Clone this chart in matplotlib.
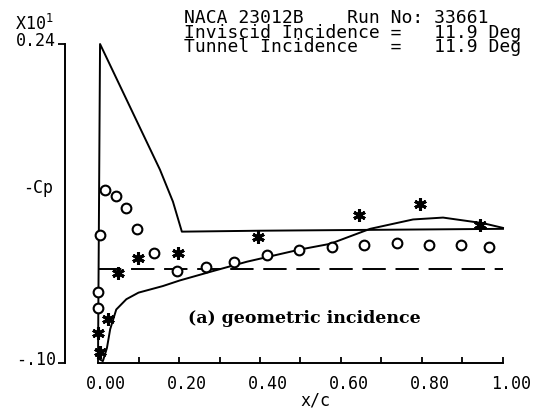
import matplotlib
matplotlib.use('Agg')
import matplotlib.pyplot as plt
import matplotlib.transforms as mtransforms

# inviscid -Cp (scaled by 1/10), upper surface then lower surface
x_upper = [0.0, 0.005, 0.111, 0.153, 0.185, 0.207, 0.40, 0.70, 1.0]
cp_upper = [-0.095, 0.24, 0.144, 0.106, 0.072, 0.040, 0.041, 0.042, 0.043]
x_lower = [0.0, 0.012, 0.022, 0.030, 0.045, 0.070, 0.100, 0.160, 0.202, 0.284,
           0.368, 0.499, 0.573, 0.672, 0.778, 0.852, 0.951, 1.0]
cp_lower = [-0.095, -0.098, -0.084, -0.064, -0.043, -0.032, -0.025, -0.018, -0.012, -0.002,
            0.008, 0.021, 0.027, 0.043, 0.053, 0.055, 0.049, 0.044]

# reference level
x_ref = [0.0, 1.0]
cp_ref = [0.0, 0.0]

# measured points, two sets
x_circ = [0.005, 0.017, 0.044, 0.069, 0.096, 0.138, 0.195, 0.267, 0.336, 0.417,
          0.496, 0.578, 0.657, 0.738, 0.817, 0.896, 0.965, 0.0, 0.0]
cp_circ = [0.036, 0.084, 0.078, 0.065, 0.043, 0.017, -0.002, 0.002, 0.008, 0.015,
           0.020, 0.024, 0.026, 0.028, 0.026, 0.026, 0.024, -0.024, -0.041]
x_star = [0.049, 0.099, 0.198, 0.395, 0.644, 0.795, 0.943, 0.025, 0.0, 0.006]
cp_star = [-0.004, 0.012, 0.017, 0.034, 0.058, 0.069, 0.047, -0.053, -0.068, -0.088]

xticks = [0.0, 0.2, 0.4, 0.6, 0.8, 1.0]
xtick_labels = ['0.00', '0.20', '0.40', '0.60', '0.80', '1.00']
yticks = [-0.10, 0.24]
ytick_labels = ['-.10', '0.24']

fig = plt.figure(figsize=(5.38, 4.10), dpi=100)
ax = fig.add_axes([0.1822, 0.1122, 0.7527, 0.778])

ax.plot(x_upper, cp_upper, color='black', lw=1.4, clip_on=False)
ax.plot(x_lower, cp_lower, color='black', lw=1.4, clip_on=False)
ax.plot(x_ref, cp_ref, color='black', lw=1.4, dashes=(12, 5), clip_on=False)
ax.plot(x_circ, cp_circ, ls='none', marker='o', ms=7, mfc='white', mec='black',
        mew=1.5, clip_on=False)
ax.plot(x_star, cp_star, ls='none', marker=(6, 2, 0), ms=9, mec='black', mew=2.2,
        clip_on=False)

ax.set_xlim(0, 1.0)
ax.set_ylim(-0.10, 0.24)

ax.spines['top'].set_visible(False)
ax.spines['right'].set_visible(False)
ax.spines['left'].set_position(('outward', 24))
for s in ['left', 'bottom']:
    ax.spines[s].set_linewidth(1.4)

ax.set_xticks(xticks, xtick_labels)
ax.set_xticks([0.1, 0.3, 0.5, 0.7, 0.9], minor=True)
ax.tick_params(axis='x', which='both', direction='in', length=4, width=1.3,
               pad=8, labelsize=12)
ax.set_yticks(yticks, ytick_labels)
ax.tick_params(axis='y', direction='out', length=5, width=1.3, pad=1, labelsize=12)

# the plotter puts x labels just right of their ticks
shift = mtransforms.ScaledTranslation(6 / 72, 0, fig.dpi_scale_trans)
for lbl in ax.get_xticklabels():
    lbl.set_fontfamily('DejaVu Sans Mono')
    lbl.set_transform(lbl.get_transform() + shift)
up = mtransforms.ScaledTranslation(0, 4 / 72, fig.dpi_scale_trans)
for lbl in ax.get_yticklabels():
    lbl.set_fontfamily('DejaVu Sans Mono')
    lbl.set_transform(lbl.get_transform() + up)

fig.text(15 / 538, 1 - 30 / 410, 'X10$^1$', fontsize=12, family='DejaVu Sans Mono')
fig.text(23 / 538, 1 - 188 / 410, '-Cp', fontsize=12, va='center', family='DejaVu Sans Mono')
fig.text(315 / 538, 1 - 401 / 410, 'x/c', fontsize=12, ha='center', va='center',
         family='DejaVu Sans Mono')

header = ['NACA 23012B    Run No: 33661',
          'Inviscid Incidence =   11.9 Deg',
          'Tunnel Incidence   =   11.9 Deg']
fig.text(184 / 538, 1 - 52 / 410, '\n'.join(header), fontsize=13,
         family='DejaVu Sans Mono', va='baseline', linespacing=0.74)

ax.text(0.51, -0.052, '(a) geometric incidence', fontsize=12.5, fontweight='bold',
        family='DejaVu Serif', ha='center', va='center')

fig.savefig('out.png', dpi=100)
